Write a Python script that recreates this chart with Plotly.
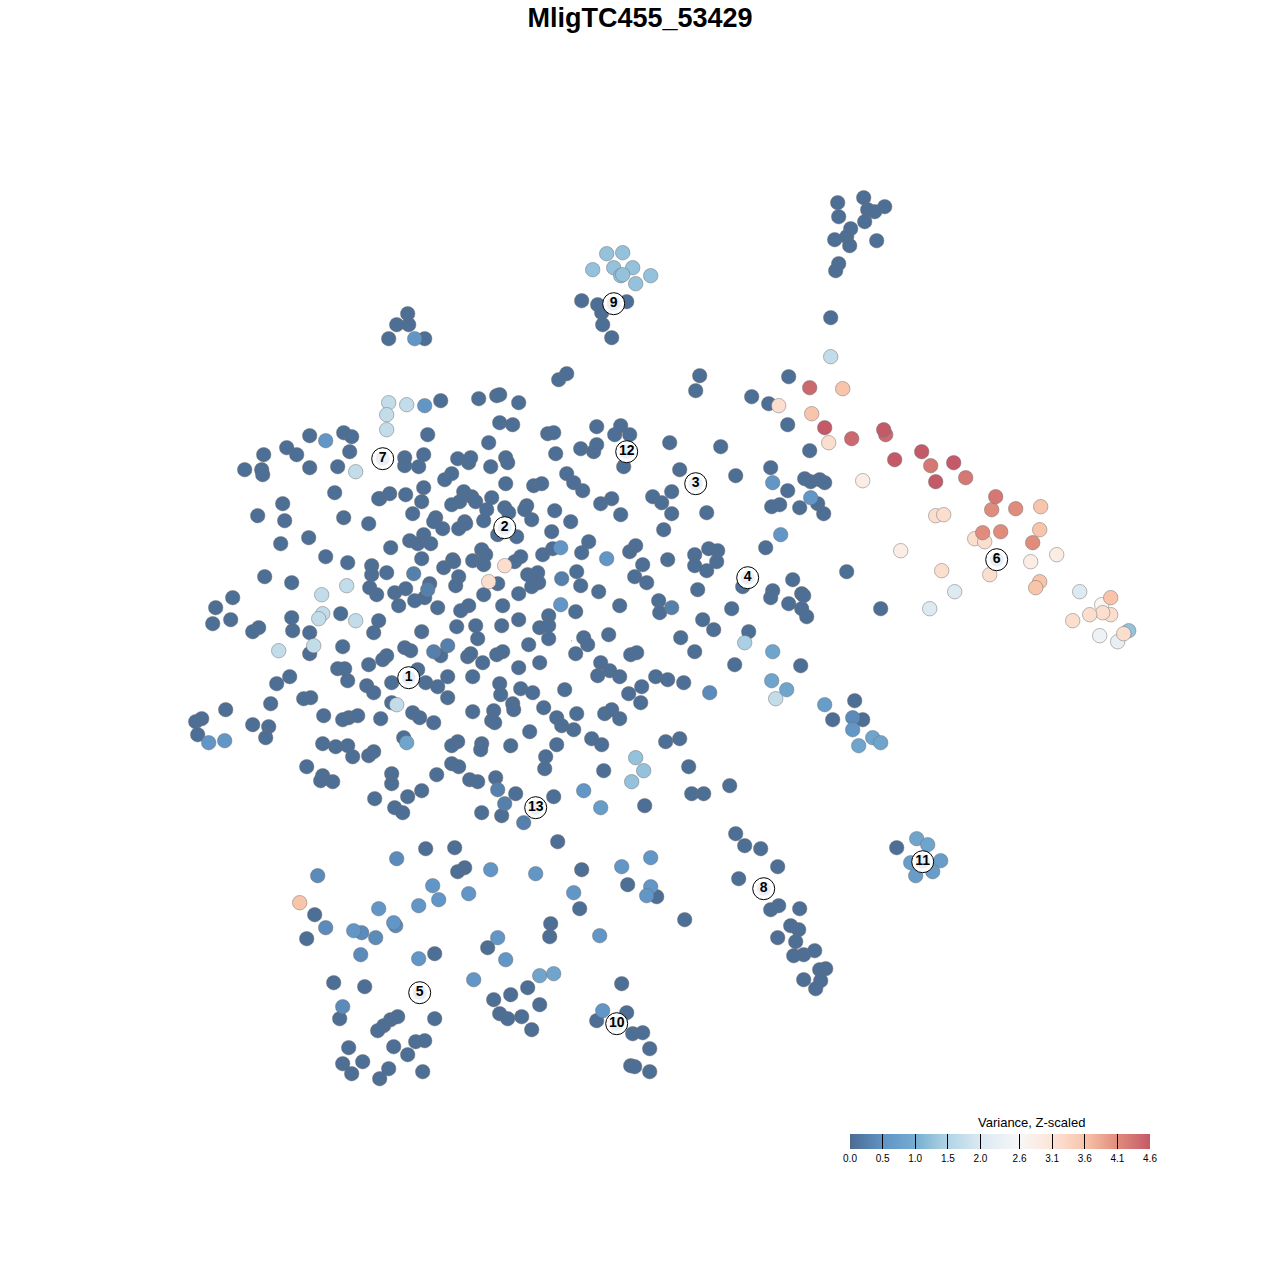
import plotly.graph_objects as go

TITLE = "MligTC455_53429"
COLORBAR_TITLE = "Variance, Z-scaled"
tick_vals = [0.0, 0.5, 1.0, 1.5, 2.0, 2.6, 3.1, 3.6, 4.1, 4.6]
tick_text = ["0.0", "0.5", "1.0", "1.5", "2.0", "2.6", "3.1", "3.6", "4.1", "4.6"]

# colour stops of the variance scale: (value, colour)
scale_vals = [0.0, 0.5, 1.0, 1.5, 2.0, 2.6, 3.1, 3.6, 4.1, 4.6]
scale_cols = ["#4c6c92", "#5f93c5", "#76add1", "#b1d4e5", "#dbe9f2", "#f7f7f7",
              "#fde4d8", "#f8c4aa", "#e08c7c", "#c45a68"]

# t-SNE positions, grouped by estimated variance
var_003 = [
 (309,435),(343,432),(351,436),(349,451),(286,447),(296,454),(263,454),(244,469),(261,469),(262,474),
 (309,467),(337,466),(334,492),(379,498),(378,498),(389,493),(282,503),(257,515),(284,520),(343,517),
 (368,523),(308,537),(280,543),(325,556),(347,562),(371,565),(371,574),(386,572),(264,576),(291,582),
 (369,587),(376,594),(232,597),(215,607),(340,613),(230,619),(212,623),(291,617),(292,630),(258,627),
 (252,631),(309,632),(378,620),(373,632),(309,653),(342,646),(337,668),(344,668),(347,680),(368,664),
 (289,676),(276,683),(382,659),(386,655),(366,685),(373,692),(391,682),(310,697),(303,698),(270,703),
 (225,709),(252,724),(201,718),(195,721),(197,734),(268,726),(265,737),(323,715),(348,717),(342,719),
 (357,715),(380,718),(322,743),(335,746),(347,745),(352,756),(373,751),(368,755),(306,766),(322,775),
 (320,780),(332,781),(391,702),(391,773),(391,783),
 (427,434),(404,457),(404,465),(418,466),(423,454),(488,442),(499,422),(512,424),(457,458),(468,462),
 (470,457),(490,466),(505,457),(507,462),(547,433),(553,432),(555,453),(580,448),(596,426),(593,451),
 (596,444),(614,434),(620,425),(629,434),(623,466),(566,473),(573,482),(582,490),(611,498),(600,503),
 (620,514),(451,473),(444,479),(505,483),(533,485),(541,483),(423,487),(405,494),(421,501),
 (463,491),(471,496),(475,501),(459,501),(451,504),(491,497),(486,509),(504,507),(508,512),(526,505),
 (524,509),(531,519),(554,510),(412,513),(435,517),(433,521),(442,528),(464,521),(465,523),(458,528),
 (483,520),(570,521),(551,531),(497,534),(516,536),(423,534),(409,540),(417,543),(430,543),(390,547),
 (481,549),(485,554),(472,560),(483,564),(452,559),(453,561),(443,567),(421,558),(520,556),(514,561),
 (497,583),(552,548),(542,554),(581,552),(588,541),(629,551),(635,545),(642,564),(634,576),(646,582),
 (576,571),(527,574),(537,572),(538,582),(531,586),(580,585),(598,591),(518,593),(483,594),(458,576),
 (455,585),(429,583),(424,597),(394,592),(405,588),(414,600),(398,605),(437,607),(468,605),(460,610),
 (502,605),(548,615),(539,627),(548,625),(575,611),(619,605),(518,619),(501,625),(475,625),(456,626),
 (421,631),(583,637),(608,634),(548,638),(477,638),(528,644),(587,644),(575,653),(630,654),(636,652),
 (404,647),(410,650),(440,655),(467,656),(470,653),(482,662),(496,654),(502,651),(518,667),(539,662),
 (600,662),(609,670),(597,675),(619,676),(655,676),(417,669),(425,682),(437,686),(447,676),(472,676),
 (499,683),(500,694),(520,688),(532,692),(564,689),(641,686),(628,693),(640,702),(447,697),(412,712),
 (419,717),(433,722),(472,711),(493,710),(491,720),(494,722),(512,703),(513,709),(543,707),(556,717),
 (561,725),(573,729),(576,713),(604,713),(611,709),(619,718),(529,731),(403,737),
 (457,741),(451,745),(481,743),(480,749),(510,745),(556,744),(591,738),(601,744),(545,756),(544,768),
 (603,770),(451,763),(458,766),(436,774),(469,779),(477,781),(495,777),(515,793),(421,790),(407,796),
 (374,798),(394,807),(402,812),(481,812),(501,815),(553,796),(644,805),(557,841),
 (669,442),(720,446),(679,469),(735,475),(671,491),(652,496),(661,502),(671,513),(706,512),(663,529),
 (708,548),(717,550),(694,554),(716,561),(694,565),(706,570),(667,559),(697,589),(742,586),(658,600),
 (659,612),(731,608),(702,619),(713,629),(680,637),(694,651),(748,631),(800,665),(734,664),(667,679),
 (683,682),(832,719),(665,741),(679,738),(688,766),(691,793),(703,793),(729,785),
 (787,424),(809,450),(770,467),(787,490),(804,478),(810,481),(819,479),(824,482),(817,503),(823,513),
 (799,507),(779,504),(771,506),(765,547),(792,579),(772,590),(770,597),(788,603),(801,593),(803,595),
 (801,608),(806,616),(788,376),(751,396),(768,403),(880,608),(846,571),
 (425,848),(454,847),(464,867),(457,871),(581,869),(627,884),(656,896),(314,914),(579,908),(306,938),
 (684,919),(550,923),(549,936),(487,947),(434,953),(333,982),(364,986),(621,983),(527,987),(510,994),
 (493,999),(539,1004),(339,1018),(434,1018),(626,1012),(596,1020),(499,1013),(507,1018),(521,1016),
 (531,1029),(632,1033),(642,1032),(397,1016),(390,1019),(383,1025),(377,1030),(415,1041),(424,1040),
 (348,1047),(393,1046),(407,1054),(649,1048),(342,1063),(362,1061),(351,1073),(388,1068),(379,1078),
 (422,1071),(630,1065),(634,1066),(649,1071),
 (837,202),(863,197),(884,206),(867,209),(874,211),(838,216),(850,228),(864,221),(846,236),(834,239),
 (849,245),(876,240),(838,263),(835,270),(830,317),(581,300),(597,304),(626,301),(601,312),(602,324),
 (611,337),(407,313),(396,324),(408,324),(388,338),(424,338),(558,379),(566,373),(699,375),(695,390),
 (478,398),(496,395),(499,394),(518,402),(440,400),
 (854,700),(862,719),(735,833),(744,845),(760,848),(777,866),(738,878),(778,905),(770,909),(799,908),
 (790,925),(798,929),(777,937),(795,941),(814,950),(803,954),(793,955),(825,968),(819,969),(820,980),
 (803,979),(815,988),(896,847),
]
var_025 = [(413,573),(561,578),(427,589),(671,607),(433,651),(447,645),(497,789),(504,803),(523,822)]
var_040 = [(396,858),(325,927),(361,932),(395,925),(360,954),(342,1006),(709,692),(852,717),(317,875),(375,937)]
var_055 = [(325,440),(424,405),(208,742),(224,740),(772,482),(780,534),(606,558),(560,547),(560,604),
           (810,497),(852,729),(414,338),(490,869),(535,873),(621,866),(650,857),(573,892),(650,886),
           (646,895),(432,885),(468,893),(438,899),(418,905),(378,908),(393,922),(353,930),(599,935),
           (497,937),(418,958),(505,959),(473,979),(602,1010),(583,790)]
var_070 = [(824,704),(600,807),(940,860),(910,862),(932,871),(915,875)]
var_085 = [(771,680),(772,651),(786,689),(916,838),(927,844),(872,737),(880,742),(858,745),
           (539,975),(553,973),(406,742)]
var_125 = [(606,253),(622,252),(592,269),(613,267),(632,267),(620,275),(622,274),(650,275),(635,283),
           (635,757),(643,770),(631,781),(1128,630)]
var_145 = [(744,642)]
var_170 = [(388,402),(386,414),(386,429),(406,404),(355,471),(346,585),(321,594),(322,613),(318,618),
           (355,620),(278,650),(313,645),(396,704),(830,356),(775,698)]
var_205 = [(929,608),(1079,591),(954,591)]
var_225 = [(1117,641)]
var_240 = [(1099,635)]
var_265 = [(1101,604)]
var_290 = [(862,480),(900,550),(1056,554),(1030,561)]
var_320 = [(828,442),(778,405),(504,565),(488,581),(935,515),(943,514),(974,538),(984,541),(989,574),
           (1072,620),(1110,614),(1102,612),(1123,633),(1089,614),(941,570)]
var_360 = [(842,388),(811,413),(1040,506),(1039,529),(1039,581),(1035,587),(1110,597),(299,902)]
var_410 = [(991,509),(1015,508),(982,532),(1000,531),(1032,542)]
var_430 = [(930,465),(965,477),(995,496)]
var_445 = [(809,387),(851,438),(885,434)]
var_460 = [(824,427),(883,429),(921,451),(894,459),(953,462),(935,481)]

cluster_ids = ["1","2","3","4","5","6","7","8","9","10","11","12","13"]
cluster_x = [408,504,695,747,419,996,382,763,613,616,922,626,535]
cluster_y = [677,527,483,577,992,559,458,888,303,1023,861,451,807]

speck_x, speck_y = [571], [640]

levels = [(0.03,var_003),(0.25,var_025),(0.40,var_040),(0.55,var_055),(0.70,var_070),(0.85,var_085),
          (1.25,var_125),(1.45,var_145),(1.70,var_170),(2.05,var_205),(2.25,var_225),(2.40,var_240),
          (2.65,var_265),(2.90,var_290),(3.20,var_320),(3.60,var_360),(4.10,var_410),(4.30,var_430),
          (4.45,var_445),(4.60,var_460)]

xs, ys, cs = [], [], []
for v, pts in levels:          # ascending variance: high values drawn on top
    for (px, py) in pts:
        xs.append(px); ys.append(py); cs.append(v)

cmax = scale_vals[-1]
colorscale = [[v / cmax, c] for v, c in zip(scale_vals, scale_cols)]

fig = go.Figure()
fig.add_trace(go.Scatter(
    x=xs, y=ys, mode="markers", showlegend=False, hoverinfo="skip",
    marker=dict(size=14.5, color=cs, cmin=0, cmax=cmax, colorscale=colorscale,
                line=dict(width=0.8, color="rgba(110,110,110,0.6)"),
                colorbar=dict(orientation="h", lenmode="pixels", len=300, thickness=15,
                              xanchor="left", x=850/1280, yanchor="top", y=1-1134/1280,
                              xpad=0, ypad=0, outlinewidth=0, borderwidth=0,
                              tickmode="array", tickvals=tick_vals, ticktext=tick_text,
                              ticks="inside", ticklen=15, tickwidth=1, tickcolor="black",
                              tickfont=dict(family="Liberation Sans", size=10, color="black"),
                              ticklabelposition="outside bottom"))))
fig.add_trace(go.Scatter(x=speck_x, y=speck_y, mode="markers", showlegend=False, hoverinfo="skip",
                         marker=dict(size=1, color="#4c6c92")))
fig.add_trace(go.Scatter(x=cluster_x, y=cluster_y, mode="markers", showlegend=False, hoverinfo="skip",
                         marker=dict(size=22, color="white", line=dict(width=1, color="black"))))
fig.add_trace(go.Scatter(x=cluster_x, y=cluster_y, mode="markers+text", showlegend=False, hoverinfo="skip",
                         text=cluster_ids, textposition="middle center",
                         textfont=dict(family="Liberation Sans", size=14, color="black", weight="bold"),
                         marker=dict(size=14, color="#e9eff5", line=dict(width=0))))

fig.update_xaxes(range=[-0.7, 1279.3], visible=False)
fig.update_yaxes(range=[1279.3, -0.7], visible=False)
fig.update_layout(
    width=1280, height=1280, margin=dict(l=0, r=0, t=0, b=0),
    paper_bgcolor="white", plot_bgcolor="white",
    title=dict(text=f"<b>{TITLE}</b>", x=0.5, xanchor="center", y=1-18/1280, yanchor="middle",
               font=dict(family="Liberation Sans", size=27, color="black")),
    annotations=[dict(text=COLORBAR_TITLE, xref="paper", yref="paper", x=1031/1280, y=1-1122.5/1280,
                      xanchor="center", yanchor="middle", showarrow=False,
                      font=dict(family="Liberation Sans", size=13, color="black"))])

fig.write_html("out.html", config={"displayModeBar": False}, post_script="document.body.style.margin='0';")
